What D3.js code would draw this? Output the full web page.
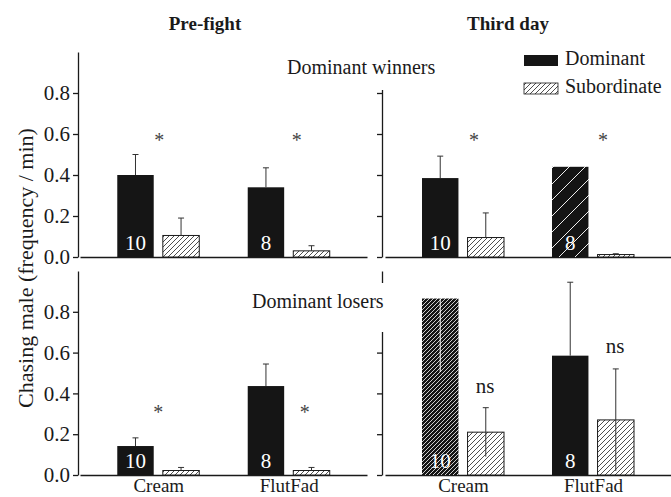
<!DOCTYPE html>
<meta charset="utf-8">
<head>
  <style>
    body { margin: 0; background: #fff; }
    svg text { font-family: "Liberation Serif", "Times New Roman", serif !important; fill: #1a1a1a; }
  </style>
  <script src="https://cdn.jsdelivr.net/npm/d3@7"></script>
</head>
<body>
<script>
  const categories = ["Cream", "FlutFad"];
  const groups = ["Dominant", "Subordinate"];
  const sampleSizes = ["10", "8"];
  const yTicks = [0, 0.2, 0.4, 0.6, 0.8];
  const columnTitles = ["Pre-fight", "Third day"];
  const rowTitles = ["Dominant winners", "Dominant losers"];

  // dominant winners, pre-fight
  const preWinDom = [0.40, 0.34];
  const preWinDomErr = [0.10, 0.095];
  const preWinSub = [0.105, 0.03];
  const preWinSubErr = [0.085, 0.025];
  const preWinSig = ["*", "*"];
  // dominant winners, third day
  const thirdWinDom = [0.385, 0.44];
  const thirdWinDomErr = [0.107, 0];
  const thirdWinSub = [0.095, 0.012];
  const thirdWinSubErr = [0.12, 0.004];
  const thirdWinSig = ["*", "*"];
  // dominant losers, pre-fight
  const preLoseDom = [0.142, 0.436];
  const preLoseDomErr = [0.04, 0.108];
  const preLoseSub = [0.022, 0.022];
  const preLoseSubErr = [0.015, 0.015];
  const preLoseSig = ["*", "*"];
  // dominant losers, third day
  const thirdLoseDom = [0.865, 0.585];
  const thirdLoseDomErr = [0.36, 0.36];
  const thirdLoseSub = [0.21, 0.27];
  const thirdLoseSubErr = [0.12, 0.25];
  const thirdLoseSig = ["ns", "ns"];

  const panels = [
    {row: 0, col: 0, dom: preWinDom, domErr: preWinDomErr, sub: preWinSub, subErr: preWinSubErr,
     sig: preWinSig, sigY: [0.61, 0.61], sigDx: [1, 8], domDir: ["up", "up"], subDir: ["up", "up"],
     domFill: ["#151515", "#151515"]},
    {row: 0, col: 1, dom: thirdWinDom, domErr: thirdWinDomErr, sub: thirdWinSub, subErr: thirdWinSubErr,
     sig: thirdWinSig, sigY: [0.61, 0.61], sigDx: [11, 10], domDir: ["up", "up"], subDir: ["up", "up"],
     domFill: ["#151515", "url(#hSparse)"]},
    {row: 1, col: 0, dom: preLoseDom, domErr: preLoseDomErr, sub: preLoseSub, subErr: preLoseSubErr,
     sig: preLoseSig, sigY: [0.35, 0.35], sigDx: [0, 16], domDir: ["up", "up"], subDir: ["up", "up"],
     domFill: ["#151515", "#151515"]},
    {row: 1, col: 1, dom: thirdLoseDom, domErr: thirdLoseDomErr, sub: thirdLoseSub, subErr: thirdLoseSubErr,
     sig: thirdLoseSig, sigY: [0.4, 0.6], sigDx: [22, 22], domDir: ["downWhite", "up"], subDir: ["both", "both"],
     domFill: ["url(#hDense)", "#151515"]}
  ];

  const svg = d3.select("body").append("svg")
    .attr("width", 671)
    .attr("height", 497)
    .attr("font-family", "Liberation Serif");

  const defs = svg.append("defs");
  function hatch(id, size, bg, fg, sw) {
    const p = defs.append("pattern")
      .attr("id", id)
      .attr("patternUnits", "userSpaceOnUse")
      .attr("width", size)
      .attr("height", size);
    p.append("rect").attr("width", size).attr("height", size).attr("fill", bg);
    p.append("path")
      .attr("d", `M0,${size} L${size},0 M${-size / 4},${size / 4} L${size / 4},${-size / 4} M${size * 3 / 4},${size * 5 / 4} L${size * 5 / 4},${size * 3 / 4}`)
      .attr("stroke", fg)
      .attr("stroke-width", sw);
  }
  hatch("hSub", 5, "#fff", "#222", 0.8);
  hatch("hDense", 4, "#151515", "#fff", 0.8);
  hatch("hSparse", 16, "#151515", "#eee", 1);

  const yScales = [
    d3.scaleLinear().domain([0, 1]).range([257, 52]),
    d3.scaleLinear().domain([0, 1]).range([475, 271])
  ];
  const xScales = [
    d3.scalePoint().domain(categories).range([80, 367]).padding(0.6),
    d3.scalePoint().domain(categories).range([385, 671]).padding(0.6)
  ];
  const axisX = [78, 382];
  const sub = d3.scaleBand().domain(groups).range([-41, 41]).paddingInner(0.2);

  // axes
  [0, 1].forEach(row => {
    [0, 1].forEach(col => {
      const y = yScales[row];
      const ax = svg.append("g")
        .attr("transform", `translate(${axisX[col]},0)`)
        .call(d3.axisLeft(y).tickValues(yTicks)
          .tickFormat(col == 0 ? d3.format(".1f") : () => "")
          .tickSize(5).tickSizeOuter(0).tickPadding(3));
      ax.attr("font-family", null);
      ax.selectAll("text").style("font-size", "21px").attr("fill", "#1a1a1a");
      ax.selectAll("path, line").attr("stroke", "#1a1a1a").attr("stroke-width", 1.3);

      const bx = svg.append("g")
        .attr("transform", `translate(0,${y(0)})`)
        .call(d3.axisBottom(xScales[col]).tickSize(0).tickSizeOuter(0).tickPadding(3)
          .tickFormat(row == 1 ? d => d : () => ""));
      bx.attr("font-family", null);
      bx.selectAll("text").style("font-size", "19px").attr("fill", "#1a1a1a");
      bx.select(".domain").attr("stroke", "#1a1a1a").attr("stroke-width", 1.5);
    });
  });

  // white boxes behind the row titles hide part of the right axis
  svg.append("rect").attr("x", 282).attr("y", 49).attr("width", 200).attr("height", 41).attr("fill", "#fff");
  svg.append("rect").attr("x", 246).attr("y", 283).attr("width", 166).attr("height", 49).attr("fill", "#fff");
  svg.append("text").attr("x", 287).attr("y", 74).style("font-size", "20px").text(rowTitles[0]);
  svg.append("text").attr("x", 252).attr("y", 308).style("font-size", "20px").text(rowTitles[1]);

  // bars
  panels.forEach(p => {
    const x = xScales[p.col], y = yScales[p.row];
    const g = svg.append("g");
    const rows = categories.map((c, i) => ({c, i}));

    g.selectAll(".dom").data(rows).enter().append("rect")
      .attr("x", d => x(d.c) + sub("Dominant"))
      .attr("width", sub.bandwidth())
      .attr("y", d => y(p.dom[d.i]))
      .attr("height", d => y(0) - y(p.dom[d.i]))
      .attr("fill", d => p.domFill[d.i]);

    g.selectAll(".sub").data(rows).enter().append("rect")
      .attr("x", d => x(d.c) + sub("Subordinate"))
      .attr("width", sub.bandwidth())
      .attr("y", d => y(p.sub[d.i]))
      .attr("height", d => y(0) - y(p.sub[d.i]))
      .attr("fill", "url(#hSub)")
      .attr("stroke", "#1a1a1a")
      .attr("stroke-width", 1);

    // error bars
    function err(key, vals, errs, dirs) {
      rows.forEach(d => {
        const e = errs[d.i];
        if (!e) return;
        const cx = x(d.c) + sub(key) + sub.bandwidth() / 2;
        const v = vals[d.i], dir = dirs[d.i];
        const top = dir == "downWhite" ? v : v + e;
        const bot = dir == "up" ? v : v - e;
        const col = dir == "downWhite" ? "#fff" : "#333";
        g.append("line").attr("x1", cx).attr("x2", cx)
          .attr("y1", y(top)).attr("y2", y(bot))
          .attr("stroke", col).attr("stroke-width", 1);
        if (dir != "downWhite") {
          g.append("line").attr("x1", cx - 3).attr("x2", cx + 3)
            .attr("y1", y(top)).attr("y2", y(top))
            .attr("stroke", col).attr("stroke-width", 1);
        }
      });
    }
    err("Dominant", p.dom, p.domErr, p.domDir);
    err("Subordinate", p.sub, p.subErr, p.subDir);

    // sample sizes
    g.selectAll(".n").data(rows).enter().append("text")
      .attr("x", d => x(d.c) + sub("Dominant") + sub.bandwidth() / 2)
      .attr("y", y(0) - 7)
      .attr("text-anchor", "middle")
      .style("font-size", "21px")
      .style("fill", "#fff")
      .text(d => sampleSizes[d.i]);

    // significance marks
    g.selectAll(".sig").data(rows).enter().append("text")
      .attr("x", d => x(d.c) + p.sigDx[d.i])
      .attr("y", d => y(p.sigY[d.i]))
      .attr("text-anchor", "middle")
      .attr("dy", d => p.sig[d.i] == "*" ? "0.75em" : "0")
      .style("font-size", d => p.sig[d.i] == "*" ? "20px" : "21px")
      .style("fill", d => p.sig[d.i] == "*" ? "#444" : "#1a1a1a")
      .text(d => p.sig[d.i]);
  });

  // titles
  svg.append("text").attr("x", 205).attr("y", 30).attr("text-anchor", "middle")
    .style("font-size", "19px").style("font-weight", "bold").text(columnTitles[0]);
  svg.append("text").attr("x", 508).attr("y", 30).attr("text-anchor", "middle")
    .style("font-size", "19px").style("font-weight", "bold").text(columnTitles[1]);

  svg.append("text")
    .attr("transform", "translate(33,268) rotate(-90)")
    .attr("text-anchor", "middle")
    .style("font-size", "22px")
    .text("Chasing male (frequency / min)");

  // legend
  const legend = svg.append("g").attr("transform", "translate(524,55)");
  legend.selectAll("rect").data(groups).enter().append("rect")
    .attr("x", 0)
    .attr("y", (d, i) => i * 28)
    .attr("width", 34)
    .attr("height", 11)
    .attr("fill", (d, i) => i == 0 ? "#151515" : "url(#hSub)")
    .attr("stroke", (d, i) => i == 0 ? "none" : "#1a1a1a")
    .attr("stroke-width", 0.8);
  legend.selectAll("text").data(groups).enter().append("text")
    .attr("x", 41)
    .attr("y", (d, i) => i * 28 + 10)
    .style("font-size", "20px")
    .text(d => d);
</script>
</body>
</html>
